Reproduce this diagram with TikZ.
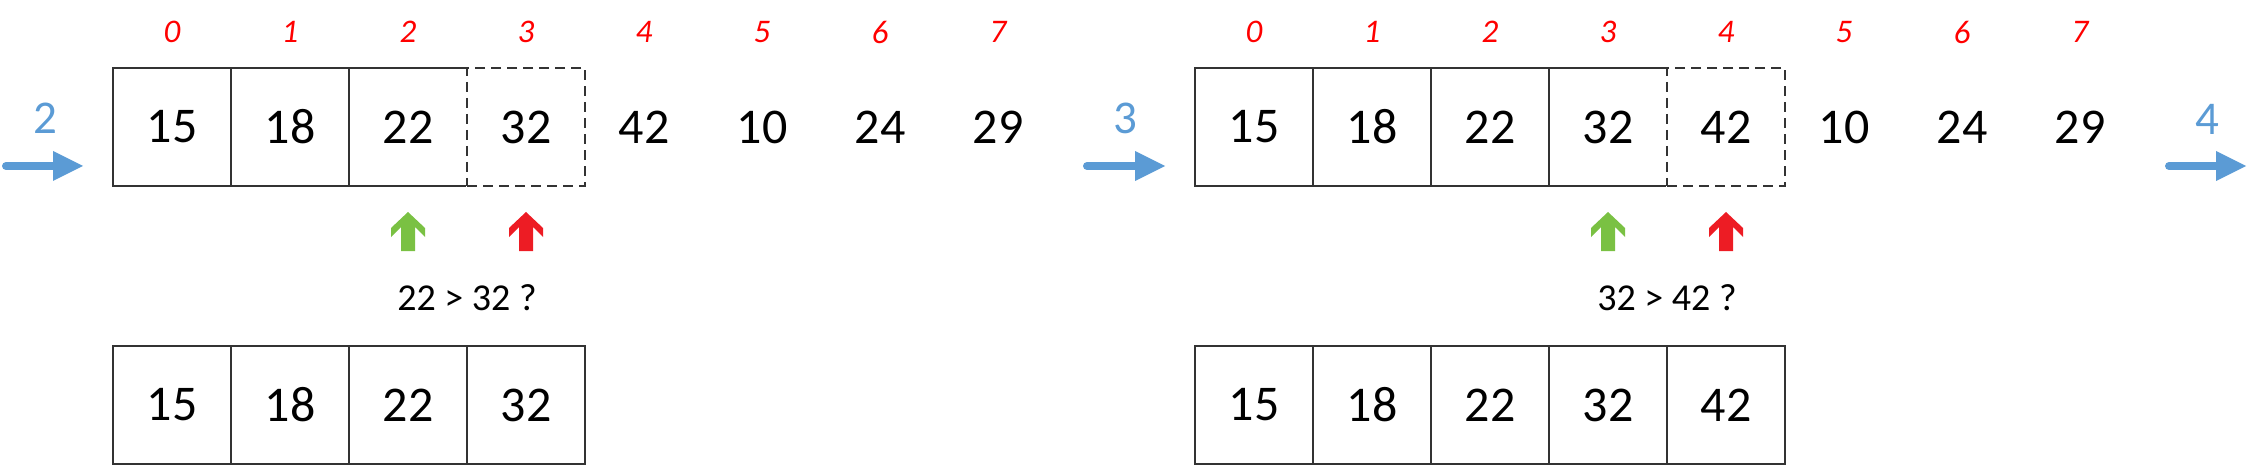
\documentclass[tikz,border=0pt]{standalone}
\usepackage{fontspec}
\setmainfont{Carlito}
\definecolor{ablue}{HTML}{5B9BD5}
\definecolor{agreen}{HTML}{7AC143}
\definecolor{ared}{HTML}{ED1C24}
\definecolor{idxred}{HTML}{FF0000}
\definecolor{lin}{HTML}{333333}
\tikzset{
  cell/.style={minimum width=118pt,minimum height=118pt,inner sep=0pt,outer sep=0pt,font=\fontsize{50}{60}\selectfont},
  solidcell/.style={cell,draw=lin,line width=1.3pt},
  dashcell/.style={cell,preaction={draw=white,line width=2pt,solid},draw=lin,line width=1.3pt,dash pattern=on 10pt off 6pt},
  freeval/.style={cell},
  idx/.style={inner sep=0pt,text=idxred,font=\fontsize{33}{38}\selectfont\itshape},
  stepnum/.style={inner sep=0pt,text=ablue,font=\fontsize{47}{56}\selectfont},
  cmp/.style={inner sep=0pt,font=\fontsize{38}{46}\selectfont},
  blueshaft/.style={draw=ablue,line width=8pt,line cap=round},
  uparrow/.pic={\fill (0,0) -- (-17,16) -- (-17,25) -- (-7,15) -- (-7,39) -- (7,39) -- (7,15) -- (17,25) -- (17,16) -- cycle;},
  bluehead/.pic={\fill[ablue] (0,-15) -- (30,0) -- (0,15) -- cycle;}
}
\begin{document}
\begin{tikzpicture}[x=1pt,y=-1pt]
\useasboundingbox (0,0) rectangle (2248,465);
% ---------- left panel ----------
\foreach \i in {0,...,7} \node[idx] (Li\i) at (172+118*\i,32) {\i};
\node[stepnum] (Ls) at (45,118) {2};
\coordinate (La) at (6,166); \coordinate (Lb) at (53,166);
\draw[blueshaft] (La) -- (Lb);
\pic at (Lb) {bluehead};
\node[solidcell] (L0) at (172,127) {15};
\node[solidcell] (L1) at (290,127) {18};
\node[solidcell] (L2) at (408,127) {22};
\node[dashcell] (L3) at (526,127) {32};
\node[freeval] (L4) at (644,127) {42};
\node[freeval] (L5) at (762,127) {10};
\node[freeval] (L6) at (880,127) {24};
\node[freeval] (L7) at (998,127) {29};
\pic[fill=agreen] at (408,212) {uparrow};
\pic[fill=ared] at (526,212) {uparrow};
\node[cmp] (Lc) at (467,298) {22 > 32 ?};
\node[solidcell] (LB0) at (172,405) {15};
\node[solidcell] (LB1) at (290,405) {18};
\node[solidcell] (LB2) at (408,405) {22};
\node[solidcell] (LB3) at (526,405) {32};
% ---------- right panel ----------
\foreach \i in {0,...,7} \node[idx] (Ri\i) at (1254+118*\i,32) {\i};
\node[stepnum] (Rs) at (1125,118) {3};
\coordinate (Ra) at (1087,166); \coordinate (Rb) at (1135,166);
\draw[blueshaft] (Ra) -- (Rb);
\pic at (Rb) {bluehead};
\node[solidcell] (R0) at (1254,127) {15};
\node[solidcell] (R1) at (1372,127) {18};
\node[solidcell] (R2) at (1490,127) {22};
\node[solidcell] (R3) at (1608,127) {32};
\node[dashcell] (R4) at (1726,127) {42};
\node[freeval] (R5) at (1844,127) {10};
\node[freeval] (R6) at (1962,127) {24};
\node[freeval] (R7) at (2080,127) {29};
\pic[fill=agreen] at (1608,212) {uparrow};
\pic[fill=ared] at (1726,212) {uparrow};
\node[cmp] (Rc) at (1667,298) {32 > 42 ?};
\node[solidcell] (RB0) at (1254,405) {15};
\node[solidcell] (RB1) at (1372,405) {18};
\node[solidcell] (RB2) at (1490,405) {22};
\node[solidcell] (RB3) at (1608,405) {32};
\node[solidcell] (RB4) at (1726,405) {42};
% ---------- final step marker ----------
\node[stepnum] (Es) at (2207,119) {4};
\coordinate (Ea) at (2169,166); \coordinate (Eb) at (2216,166);
\draw[blueshaft] (Ea) -- (Eb);
\pic at (Eb) {bluehead};
\end{tikzpicture}
\end{document}
